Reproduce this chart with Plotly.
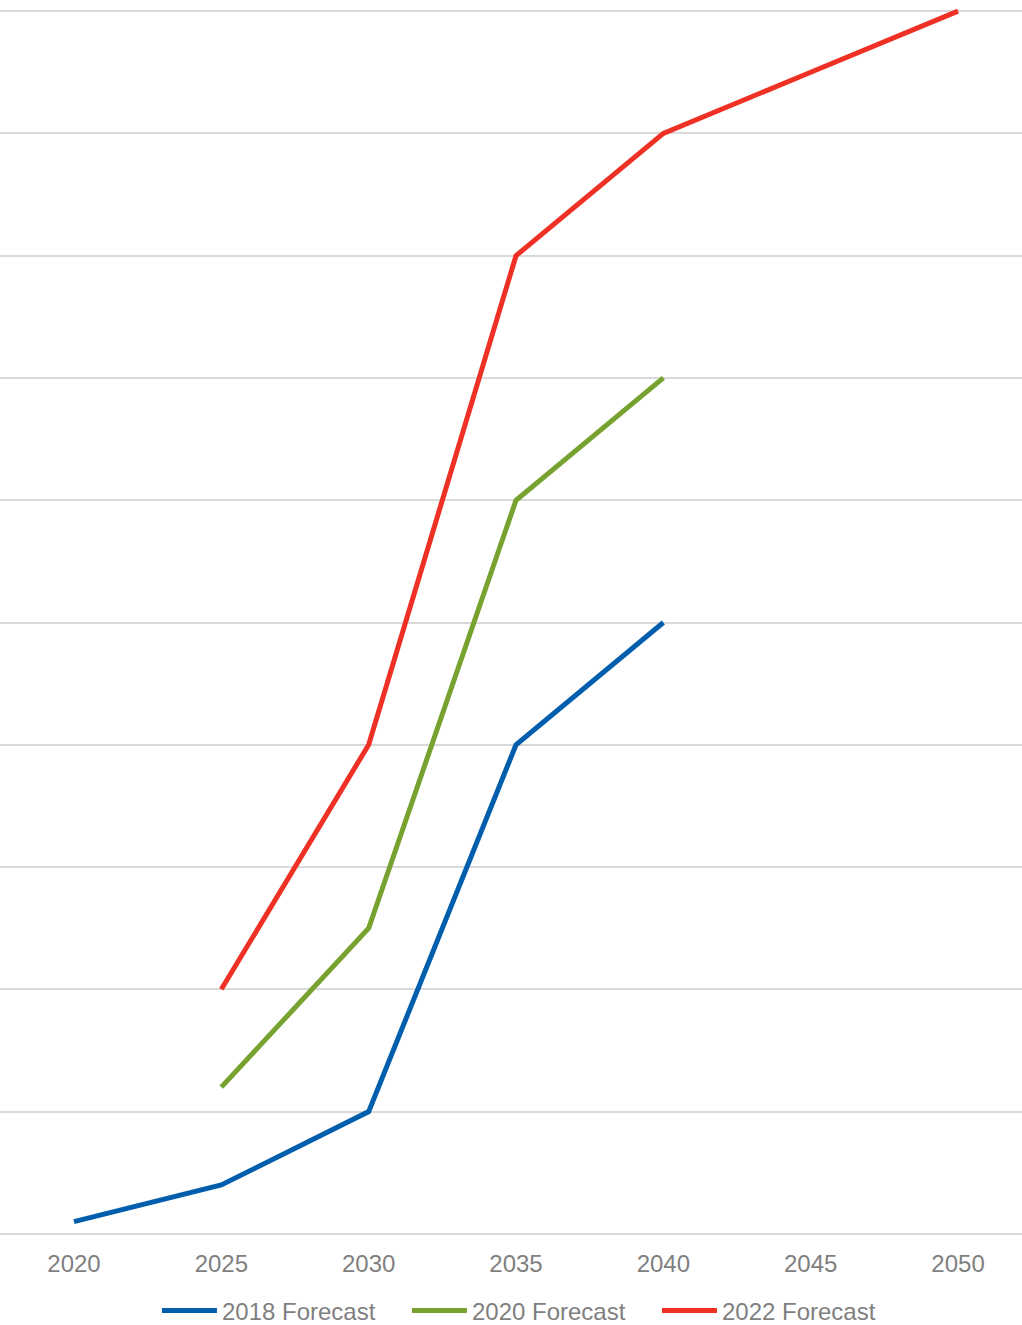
import plotly.graph_objects as go

years = [2020, 2025, 2030, 2035, 2040, 2045, 2050]
forecast_2018 = [1, 4, 10, 40, 50, None, None]
forecast_2020 = [None, 12, 25, 60, 70, None, None]
forecast_2022 = [None, 20, 40, 80, 90, 95, 100]
series_names = ["2018 Forecast", "2020 Forecast", "2022 Forecast"]
colors = ["#005EAD", "#78A22F", "#EE3124"]

fig = go.Figure()
for name, vals, col in zip(series_names, [forecast_2018, forecast_2020, forecast_2022], colors):
    fig.add_trace(go.Scatter(
        x=years, y=vals, name=name, mode="lines",
        line=dict(color=col, width=5),
    ))

fig.update_layout(
    width=1022, height=1325,
    margin=dict(l=0, r=0, t=5, b=85, autoexpand=False),
    plot_bgcolor="white", paper_bgcolor="white",
    font=dict(family="Liberation Sans, Arial, sans-serif", size=24, color="#7F7F7F"),
    xaxis=dict(
        range=[2017.49, 2052.17], tickmode="array", tickvals=years,
        ticktext=[str(y) for y in years], showgrid=False, zeroline=False,
        showline=False, ticks="", ticklabelstandoff=7,
    ),
    yaxis=dict(
        range=[-0.5, 100.5], dtick=10, tick0=0, showticklabels=False,
        showgrid=True, gridcolor="#D9D9D9", gridwidth=2, zeroline=False,
        showline=False, ticks="",
    ),
    legend=dict(
        orientation="h", x=0.5205, xanchor="center", y=-0.0575, yanchor="middle",
        font=dict(size=24, color="#7F7F7F"), itemwidth=55, entrywidth=180,
        bgcolor="rgba(0,0,0,0)", maxheight=200,
    ),
)

fig.write_html("out.html")
